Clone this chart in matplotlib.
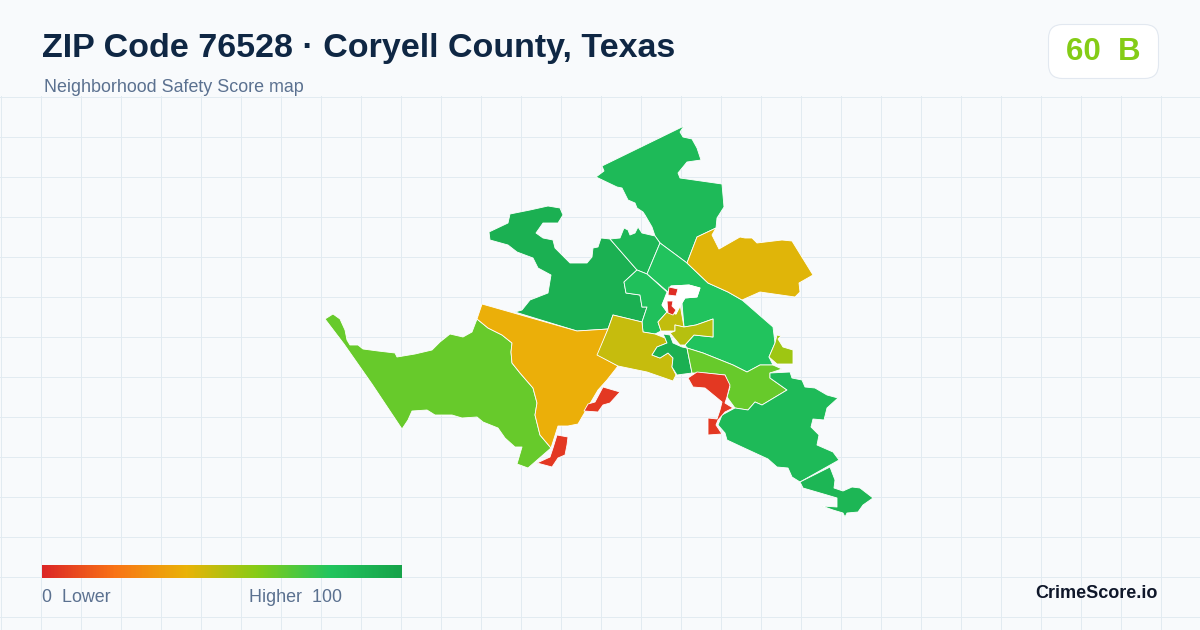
"""
ZIP 76528 neighborhood safety score map, drawn in image pixel coordinates
"""

import numpy as np
import matplotlib
matplotlib.use('Agg')
import matplotlib.pyplot as plt
from matplotlib.colors import LinearSegmentedColormap
from matplotlib.patches import FancyBboxPatch

plt.rcParams['font.family'] = ['Liberation Sans', 'DejaVu Sans']

# 1. text
title = "ZIP Code 76528 · Coryell County, Texas"
subtitle = "Neighborhood Safety Score map"
badge = "60  B"
legend_low = "0  Lower"
legend_high = "Higher  100"
brand = "CrimeScore.io"

# 2. color scale
scale_stops = [0.0, 0.2, 0.4, 0.6, 0.8, 1.0]
scale_colors = ['#dc2626', '#f97316', '#eab308', '#84cc16', '#22c55e', '#16a34a']

# 3. neighborhoods: score and outline
west_score = 66
west = [(325, 319), (333, 314), (340, 319), (345, 330), (347, 340), (350, 345), (358, 345), (363, 349),
        (378, 351), (395, 353), (397, 357), (415, 354), (432, 350), (436, 346), (440, 342), (450, 334),
        (463, 337), (472, 332), (477, 319), (488, 328), (502, 335), (512, 343), (511, 352), (512, 363),
        (520, 373), (533, 388), (537, 403), (535, 415), (540, 435), (551, 448), (528, 468), (517, 464),
        (522, 447), (515, 447), (505, 438), (498, 428), (483, 422), (477, 417), (462, 418), (452, 415),
        (435, 415), (427, 410), (412, 411), (408, 420), (402, 429), (372, 384), (344, 344)]

orange_score = 39
orange = [(482, 304), (577, 331), (608, 329), (598, 355), (618, 366), (607, 380), (598, 390), (585, 412),
          (578, 424), (568, 426), (558, 426), (551, 448), (540, 435), (535, 415), (537, 403), (533, 388),
          (520, 373), (512, 363), (511, 352), (512, 343), (502, 335), (488, 328), (477, 319)]

dark_nw_score = 92
dark_nw = [(489, 232), (508, 223), (510, 214), (530, 210), (548, 206), (560, 208), (563, 215), (558, 223),
           (543, 223), (536, 233), (543, 238), (553, 240), (555, 248), (570, 263), (587, 263), (592, 257),
           (593, 248), (598, 247), (601, 238), (610, 239), (637, 270), (624, 282), (626, 293), (640, 295),
           (642, 307), (647, 307), (642, 322), (613, 315), (608, 329), (577, 331), (515, 312), (522, 310),
           (530, 300), (548, 293), (551, 275), (538, 268), (533, 258), (517, 252), (508, 245), (490, 240)]

north_score = 86
north = [(684, 126), (680, 132), (683, 137), (692, 139), (697, 148), (701, 160), (687, 162), (678, 173),
         (680, 178), (722, 184), (724, 207), (717, 218), (716, 228), (697, 237), (687, 263), (660, 243),
         (655, 236), (652, 227), (645, 215), (643, 212), (637, 208), (635, 203), (628, 200), (622, 188),
         (617, 187), (596, 177), (604, 171), (602, 166)]

north_mid_score = 88
north_mid = [(610, 239), (620, 238), (624, 228), (628, 230), (630, 235), (635, 233), (638, 227), (642, 233),
             (655, 236), (660, 243), (647, 274), (637, 270)]

central_score = 81
central = [(660, 243), (687, 263), (708, 283), (728, 292), (742, 300), (773, 327), (775, 343), (769, 357),
           (773, 365), (760, 365), (747, 372), (733, 365), (703, 353), (687, 348), (685, 345), (694, 335),
           (713, 337), (713, 319), (696, 325), (684, 327), (682, 303), (685, 298), (697, 297), (700, 288),
           (689, 285), (671, 286), (668, 292), (647, 274)]

mid_score = 83
mid = [(637, 270), (647, 274), (667, 292), (662, 305), (667, 312), (658, 322), (661, 331), (655, 334),
       (643, 332), (642, 322), (647, 307), (642, 307), (640, 295), (626, 293), (624, 282)]

hole_score = None
hole = [(668, 292), (671, 286), (689, 285), (700, 288), (697, 297), (685, 298), (682, 303), (676, 314),
        (667, 312), (662, 305)]

gold_score = 42
gold = [(716, 228), (712, 235), (719, 249), (740, 237), (745, 238), (752, 238), (757, 243), (782, 240),
        (792, 241), (813, 275), (799, 283), (800, 292), (795, 297), (760, 292), (742, 300), (728, 292),
        (708, 283), (687, 263), (697, 237)]

olive_score = 47
olive = [(613, 315), (642, 322), (643, 332), (655, 334), (665, 338), (667, 343), (657, 347), (652, 355),
         (660, 358), (668, 353), (673, 358), (672, 367), (676, 375), (673, 381), (647, 372), (618, 366),
         (597, 355), (608, 329)]

olive_small_score = 48
olive_small = [(680, 304), (684, 327), (675, 325), (675, 331), (661, 331), (658, 322), (667, 312), (676, 314)]

olive_east_score = 50
olive_east = [(675, 325), (684, 327), (696, 325), (713, 319), (713, 337), (694, 335), (685, 345), (680, 345),
              (670, 333), (675, 331)]

dark_small_score = 92
dark_small = [(663, 334), (670, 335), (673, 343), (682, 347), (687, 348), (692, 373), (677, 375), (672, 367),
              (673, 358), (668, 353), (660, 358), (652, 355), (657, 347), (667, 343), (665, 338)]

lime_score = 66
lime = [(687, 348), (703, 353), (733, 365), (747, 372), (760, 365), (773, 365), (782, 369), (770, 373),
        (770, 378), (787, 390), (762, 405), (755, 402), (748, 410), (735, 408), (727, 397), (730, 387),
        (725, 375), (705, 373), (692, 373)]

lime_east_score = 55
lime_east = [(777, 335), (781, 336), (778, 339), (783, 347), (793, 350), (793, 364), (777, 364), (769, 357),
             (775, 343)]

southeast_score = 86
southeast = [(770, 373), (790, 372), (792, 378), (802, 380), (805, 387), (815, 388), (827, 395), (838, 398),
             (827, 408), (824, 420), (813, 419), (811, 427), (819, 435), (817, 445), (833, 452), (839, 460),
             (800, 482), (792, 477), (788, 468), (777, 467), (768, 459), (742, 447), (727, 440), (725, 433),
             (718, 425), (722, 415), (735, 408), (748, 410), (755, 402), (762, 405), (787, 390), (770, 378)]

tip_score = 89
tip = [(800, 482), (830, 467), (835, 480), (834, 488), (843, 491), (852, 487), (860, 488), (873, 498),
       (863, 505), (858, 512), (847, 513), (845, 517), (843, 513), (833, 510), (822, 506), (837, 507),
       (837, 498), (827, 495), (803, 488)]

red_mid_score = 5
red_mid = [(688, 378), (697, 372), (725, 375), (730, 385), (727, 397), (725, 403), (733, 408), (725, 412),
           (718, 420), (716, 425), (722, 434), (708, 435), (708, 418), (717, 419), (720, 410), (722, 402),
           (705, 388), (693, 387)]

red_a_score = 5
red_a = [(603, 387), (620, 392), (610, 403), (603, 405), (598, 412), (584, 411), (588, 404), (595, 402)]

red_b_score = 5
red_b = [(557, 435), (568, 437), (567, 445), (565, 455), (558, 458), (552, 467), (537, 463), (550, 457),
         (553, 448)]

red_c_score = 2
red_c = [(669, 287), (678, 289), (676, 296), (668, 295)]

red_d_score = 2
red_d = [(667, 301), (673, 301), (672, 306), (676, 310), (673, 315), (668, 313)]

# drawing order: background shapes first
regions = [(west, west_score), (dark_nw, dark_nw_score), (orange, orange_score), (north, north_score),
           (north_mid, north_mid_score), (central, central_score), (mid, mid_score), (gold, gold_score),
           (olive, olive_score), (olive_small, olive_small_score), (olive_east, olive_east_score),
           (dark_small, dark_small_score), (lime, lime_score), (lime_east, lime_east_score),
           (southeast, southeast_score), (tip, tip_score), (red_mid, red_mid_score), (red_a, red_a_score),
           (red_b, red_b_score), (hole, hole_score), (red_c, red_c_score), (red_d, red_d_score)]

cmap = LinearSegmentedColormap.from_list('safety', list(zip(scale_stops, scale_colors)))

fig = plt.figure(figsize=(12, 6.3), dpi=100, facecolor='#f8fafc')
ax = fig.add_axes([0, 0, 1, 1])
ax.set_xlim(0, 1200)
ax.set_ylim(630, 0)
ax.axis('off')

# background grid
for x in range(0, 1200, 40):
    ax.plot([x + 0.5, x + 0.5], [96, 630], color='#e2ebf1', lw=0.72, zorder=1)
for y in range(96, 630, 40):
    ax.plot([0, 1200], [y + 0.5, y + 0.5], color='#e2ebf1', lw=0.72, zorder=1)

# map
for outline, score in regions:
    face = '#ffffff' if score is None else cmap(score / 100)
    pts = np.array(outline)
    ax.fill(pts[:, 0], pts[:, 1], facecolor=face, edgecolor='#ffffff', lw=0.6, joinstyle='round', zorder=2)

# header
ax.text(42, 49, title, fontsize=24.45, fontweight='bold', color='#0f2744', va='center', ha='left', zorder=5)
ax.text(44, 87, subtitle, fontsize=12.9, color='#5b7190', va='center', ha='left', zorder=5)

box = FancyBboxPatch((1048.5, 24.5), 110, 54, boxstyle='round,pad=0,rounding_size=14',
                     facecolor='#ffffff', edgecolor='#e2e8f0', lw=0.8, zorder=4)
ax.add_patch(box)
ax.text(1103, 52, badge, fontsize=22.5, fontweight='bold', color='#84cc16', va='center', ha='center', zorder=5)

# legend
gradient = np.linspace(0, 1, 360).reshape(1, -1)
ax.imshow(gradient, cmap=cmap, extent=(42, 402, 578, 565), aspect='auto', zorder=4)
ax.set_xlim(0, 1200)
ax.set_ylim(630, 0)
ax.text(42, 597, legend_low, fontsize=12.9, color='#5b7190', va='center', ha='left', zorder=5)
ax.text(249, 597, legend_high, fontsize=12.9, color='#5b7190', va='center', ha='left', zorder=5)
ax.text(1158, 593, brand, fontsize=13, fontweight='bold', color='#0f172a', va='center', ha='right', zorder=5)

plt.savefig('out.png', dpi=100, facecolor=fig.get_facecolor())
